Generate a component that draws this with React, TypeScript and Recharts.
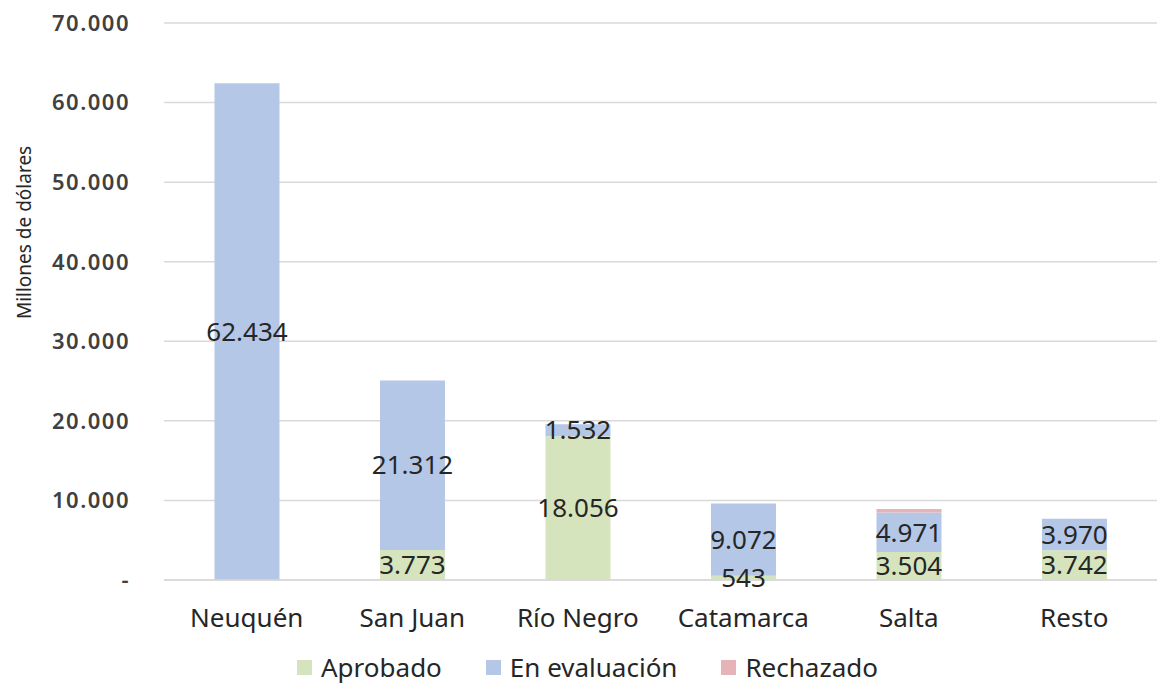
import { BarChart, Bar, XAxis, YAxis, CartesianGrid, Legend, LabelList } from 'recharts'

const provincias = ['Neuquén', 'San Juan', 'Río Negro', 'Catamarca', 'Salta', 'Resto']
const aprobado = [0, 3773, 18056, 543, 3504, 3742]
const enEvaluacion = [62434, 21312, 1532, 9072, 4971, 3970]
const rechazado = [0, 0, 0, 0, 450, 0]
const yTicks = [0, 10000, 20000, 30000, 40000, 50000, 60000, 70000]

const SERIES = [
  { key: 'aprobado', name: 'Aprobado', color: '#d6e4bd' },
  { key: 'evaluacion', name: 'En evaluación', color: '#b4c7e7' },
  { key: 'rechazado', name: 'Rechazado', color: '#e6b4b8' },
]

const FONT = '"Noto Sans", "Open Sans", sans-serif'

// separador de miles con punto
const fmt = (v: number) => {
  if (!v) return '-'
  return String(Math.round(v)).replace(/\B(?=(\d{3})+(?!\d))/g, '.')
}

const chartData = provincias.map((p, i) => ({
  provincia: p,
  aprobado: aprobado[i],
  evaluacion: enEvaluacion[i],
  rechazado: rechazado[i],
}))

const labelFmt = (v: any) => (v ? fmt(Number(v)) : '')

function LegendBox() {
  return (
    <div
      style={{
        display: 'flex',
        justifyContent: 'flex-start',
        gap: 44,
        fontFamily: FONT,
        fontSize: 26,
        lineHeight: '34px',
        color: '#262626',
        paddingLeft: 297,
        paddingTop: 20,
      }}
    >
      {SERIES.map((s) => (
        <div key={s.key} style={{ display: 'flex', alignItems: 'center' }}>
          <span style={{ width: 15, height: 15, background: s.color, marginRight: 9, display: 'inline-block' }} />
          {s.name}
        </div>
      ))}
    </div>
  )
}

// etiqueta del eje Y, algo por encima del centro como en el original
function YLabel({ viewBox }: any) {
  const x = 24
  const y = viewBox.y + viewBox.height * 0.376
  return (
    <text
      x={x}
      y={y}
      transform={`rotate(-90 ${x} ${y})`}
      textAnchor="middle"
      dominantBaseline="central"
      fontFamily={FONT}
      fontSize={19}
      fill="#262626"
    >
      Millones de dólares
    </text>
  )
}

export default function App() {
  return (
    <div style={{ position: 'absolute', left: 0, top: 0, width: 1157, height: 684, background: '#fff' }}>
      <BarChart
        width={1157}
        height={684}
        data={chartData}
        margin={{ top: 23, right: 0, bottom: 0, left: 0 }}
        barCategoryGap="30.5%"
      >
        <CartesianGrid vertical={false} stroke="#d9d9d9" strokeWidth={1.5} />
        <XAxis
          dataKey="provincia"
          axisLine={{ stroke: '#d9d9d9', strokeWidth: 1.5 }}
          tickLine={false}
          tickSize={0}
          tickMargin={29}
          height={50}
          tick={{ fontFamily: FONT, fontSize: 26, fill: '#262626' }}
        />
        <YAxis
          width={164}
          domain={[0, 70000]}
          ticks={yTicks}
          tickFormatter={fmt}
          axisLine={false}
          tickLine={false}
          tickSize={0}
          tickMargin={34}
          tick={{ fontFamily: FONT, fontSize: 22, fill: '#404040', fontWeight: 600, letterSpacing: 1.5 }}
          label={<YLabel />}
        />
        <Legend verticalAlign="bottom" height={54} content={() => <LegendBox />} />
        {SERIES.map((s) => (
          <Bar key={s.key} dataKey={s.key} name={s.name} stackId="a" fill={s.color} isAnimationActive={false}>
            {s.key !== 'rechazado' && (
              <LabelList
                dataKey={s.key}
                position="center"
                formatter={labelFmt}
                style={{ fontFamily: FONT, fontSize: 26, fill: '#262626' }}
              />
            )}
          </Bar>
        ))}
      </BarChart>
    </div>
  )
}
